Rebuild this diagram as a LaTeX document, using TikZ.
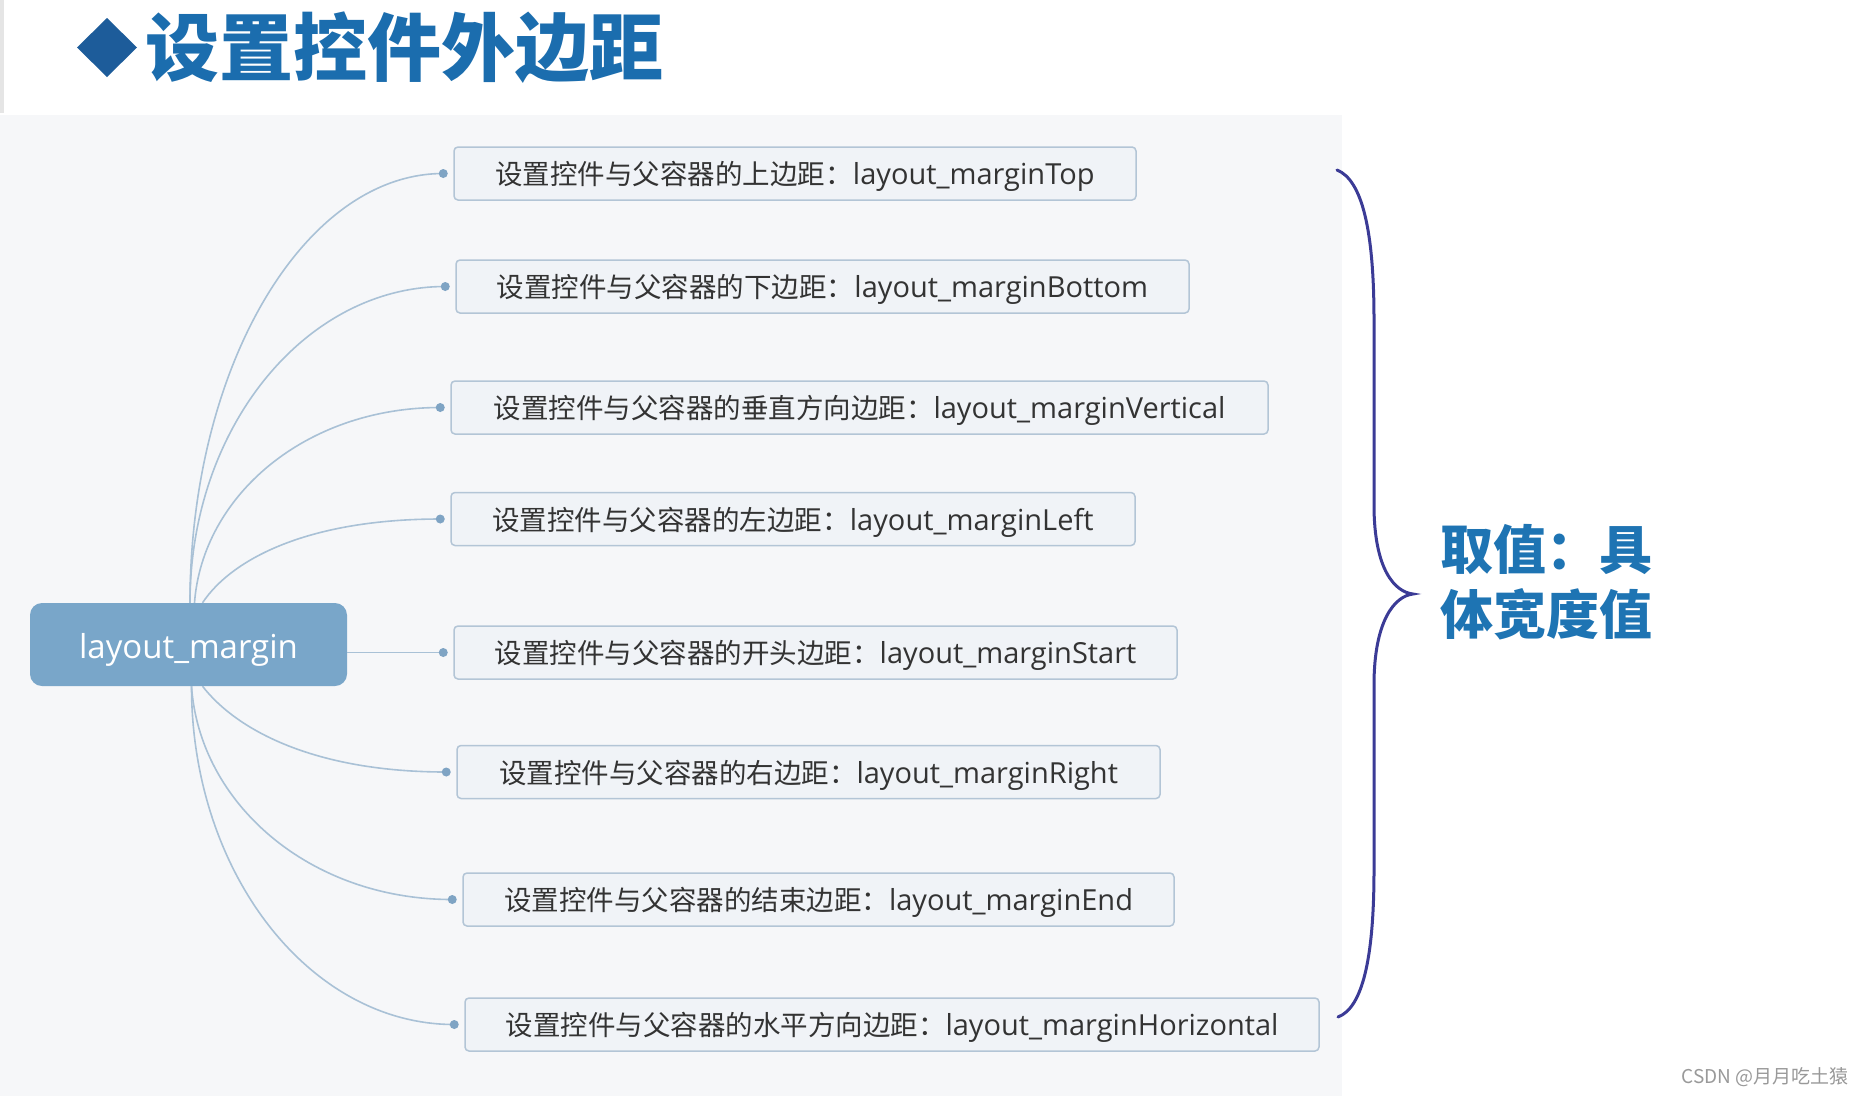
\documentclass[tikz,border=0pt]{standalone}
\usepackage{fontspec}
\newfontfamily\cjk{Noto Sans CJK SC}
\newfontfamily\lat{Open Sans}
\definecolor{titleblue}{HTML}{1B6DAE}
\definecolor{diamondblue}{HTML}{1D5C9A}
\definecolor{sideblue}{HTML}{1E74B3}
\definecolor{rootfill}{HTML}{79A6C9}
\definecolor{boxfill}{HTML}{F0F3F7}
\definecolor{boxdraw}{HTML}{B3C5D6}
\definecolor{connc}{HTML}{A9C1D6}
\definecolor{dotc}{HTML}{7FA4C4}
\definecolor{bracec}{HTML}{3B3B96}
\definecolor{panel}{HTML}{F6F7F9}
\definecolor{boxtext}{HTML}{333333}
\newcommand{\btext}[2]{{\cjk\fontsize{27.5}{32}\selectfont #1}{\lat\fontsize{29}{32}\selectfont #2}}
\begin{document}
\begin{tikzpicture}[x=1pt,y=-1pt,
  mbox/.style={draw=boxdraw, line width=1.5pt, fill=boxfill, rounded corners=4pt,
    minimum height=53pt, inner sep=0pt, text=boxtext, text height=22pt, text depth=0pt},
  rootbox/.style={fill=rootfill, rounded corners=12pt, inner sep=0pt,
    minimum width=317pt, minimum height=83pt, text=white, text height=28pt, text depth=0pt,
    font=\lat\fontsize{33}{36}\selectfont},
  conn/.style={draw=connc, line width=1.6pt},
  dotmark/.style={fill=dotc}]
\useasboundingbox (0,0) rectangle (1862,1096);
\fill[white] (0,0) rectangle (1862,1096);
\fill[panel] (0,115) rectangle (1342,1096);
\fill[black!10] (0,0) rectangle (4,113);
% title
\fill[diamondblue] (107,18) -- (137,47.5) -- (107,77) -- (77,47.5) -- cycle;
\node[inner sep=0pt, text=titleblue, font=\cjk\bfseries\fontsize{74}{80}\selectfont] (title) at (404,48) {设置控件外边距};
% root
\node[rootbox] (root) at (188.5,644.5) {layout\_margin};
% child boxes
\node[mbox, minimum width=682pt] (b1) at (795,173.5) {\btext{设置控件与父容器的上边距：}{layout\_marginTop}};
\node[mbox, minimum width=733pt] (b2) at (822.5,286.5) {\btext{设置控件与父容器的下边距：}{layout\_marginBottom}};
\node[mbox, minimum width=817pt] (b3) at (859.5,407.5) {\btext{设置控件与父容器的垂直方向边距：}{layout\_marginVertical}};
\node[mbox, minimum width=684pt] (b4) at (793,519) {\btext{设置控件与父容器的左边距：}{layout\_marginLeft}};
\node[mbox, minimum width=723pt] (b5) at (815.5,652.5) {\btext{设置控件与父容器的开头边距：}{layout\_marginStart}};
\node[mbox, minimum width=703pt] (b6) at (808.5,772) {\btext{设置控件与父容器的右边距：}{layout\_marginRight}};
\node[mbox, minimum width=711pt] (b7) at (818.5,899.5) {\btext{设置控件与父容器的结束边距：}{layout\_marginEnd}};
\node[mbox, minimum width=854pt] (b8) at (892,1024.5) {\btext{设置控件与父容器的水平方向边距：}{layout\_marginHorizontal}};
% dot coordinates
\foreach \i in {1,...,8} {\coordinate (d\i) at ([xshift=-10pt]b\i.west);}
% start coordinates on root
\coordinate (s1) at ([xshift=1.5pt]root.north);
\coordinate (s2) at ([xshift=1.5pt]root.north);
\coordinate (s3) at ([xshift=6pt]root.north);
\coordinate (s4) at ([xshift=14pt]root.north);
\coordinate (s6) at ([xshift=14pt]root.south);
\coordinate (s7) at ([xshift=3pt]root.south);
\coordinate (s8) at ([xshift=3pt]root.south);
\coordinate (s5) at (d5 -| root.east);
% connectors
\draw[conn] (s1) .. controls +(0,-236) and +(-139,0) .. (d1);
\draw[conn] (s2) .. controls +(0,-175) and +(-140,0) .. (d2);
\draw[conn] (s3) .. controls +(8,-107) and +(-135,0) .. (d3);
\draw[conn] (s4) .. controls +(30,-45) and +(-130,0) .. (d4);
\draw[conn] (s5) -- (d5);
\draw[conn] (s6) .. controls +(35,45) and +(-130,0) .. (d6);
\draw[conn] (s7) .. controls +(8,117) and +(-143,0) .. (d7);
\draw[conn] (s8) .. controls +(0,186) and +(-145,0) .. (d8);
\foreach \i in {1,...,8} {\fill[dotmark] (d\i) circle (4.5pt);}
% brace
\coordinate (bt) at (1337,170);
\coordinate (btip) at (1413,594);
\coordinate (bb) at (1338,1017);
\draw[bracec, line width=3pt, line cap=round]
  (bt) .. controls (1362,180) and (1374,230) .. (1374,320)
  -- (1374,505) .. controls (1374,570) and (1395,592) .. (btip)
  .. controls (1395,596) and (1374,620) .. (1374,685)
  -- (1374,870) .. controls (1374,960) and (1362,1008) .. (bb);
\node[inner sep=0pt, text=sideblue, align=left, font=\cjk\bfseries\fontsize{53}{65}\selectfont] (side) at (1546,582) {取值：具\\体宽度值};
% watermark
\node[anchor=east, inner sep=0pt, text=black!40, font=\cjk\fontsize{19}{22}\selectfont] (wm) at (1849,1077) {CSDN @月月吃土猿};
\end{tikzpicture}
\end{document}
